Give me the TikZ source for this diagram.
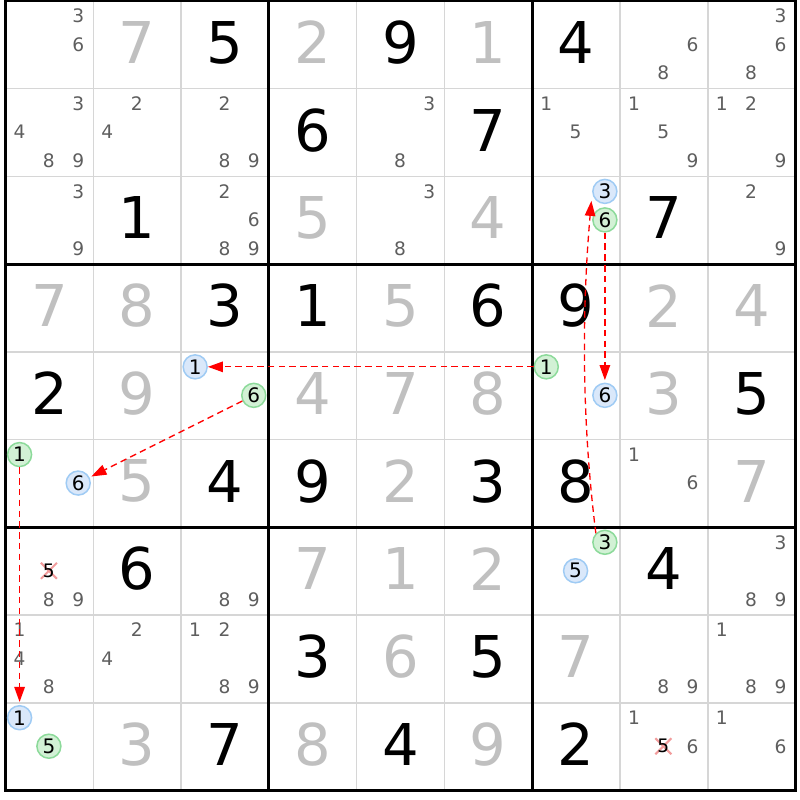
\documentclass[tikz,border=0pt]{standalone}
\usepackage{fontspec}
\setmainfont{DejaVu Sans}
\usetikzlibrary{arrows.meta,calc}
\definecolor{solvedgray}{HTML}{C0C0C0}
\definecolor{candgray}{HTML}{5E5E5E}
\definecolor{thingray}{HTML}{D6D6D6}
\definecolor{bluefill}{HTML}{DAE8FA}
\definecolor{bluedraw}{HTML}{9FCBF4}
\definecolor{greenfill}{HTML}{D2F1D5}
\definecolor{greendraw}{HTML}{8CDA9A}
\definecolor{chainred}{HTML}{FF0000}
\definecolor{xpink}{HTML}{F29C9C}
\tikzset{
  givd/.style={font=\fontsize{57.6}{60}\selectfont, text=black, inner sep=0pt},
  solvd/.style={font=\fontsize{57.6}{60}\selectfont, text=solvedgray, inner sep=0pt},
  cand/.style={font=\fontsize{18.6}{20}\selectfont, text=candgray, inner sep=0pt},
  circd/.style={circle, minimum size=24pt, inner sep=0pt, line width=1.5pt, font=\fontsize{20}{22}\selectfont, text=black},
  bluec/.style={circd, draw=bluedraw, fill=bluefill},
  greenc/.style={circd, draw=greendraw, fill=greenfill},
  chainln/.style={draw=chainred, line width=1.3pt, dash pattern=on 6.5pt off 4.3pt, -{Triangle[length=15pt,width=10.5pt]}},
  xmk/.style={draw=xpink, line width=2pt},
  thinln/.style={draw=thingray, line width=1.5pt},
  thickln/.style={draw=black, line width=3pt}
}
\begin{document}
\begin{tikzpicture}[x=1pt,y=-1pt]
\useasboundingbox (0,0) rectangle (800,800);
\fill[white] (0,0) rectangle (800,800);
% thin grid lines
\foreach \i in {1,2,4,5,7,8}{
  \draw[thinln] ({5.5+87.78*\i},1) -- ({5.5+87.78*\i},790.5);
  \draw[thinln] (5.5,{1+87.72*\i}) -- (795.5,{1+87.72*\i});
}
% thick grid lines
\foreach \i in {0,3,6,9}{
  \draw[thickln] ({5.5+87.78*\i},-0.5) -- ({5.5+87.78*\i},792);
  \draw[thickln] (4,{1+87.72*\i}) -- (797,{1+87.72*\i});
}
% given digits
\foreach \r/\c/\d in {0/2/5,0/4/9,0/6/4,1/3/6,1/5/7,2/1/1,2/7/7,3/2/3,3/3/1,3/5/6,3/6/9,4/0/2,4/8/5,5/2/4,5/3/9,5/5/3,5/6/8,6/1/6,6/7/4,7/3/3,7/5/5,8/2/7,8/4/4,8/6/2}
  \node[givd] (v\r\c) at ({5.5+87.78*(\c+0.5)},{1+87.72*(\r+0.5)-2.3}) {\d};
% solved digits
\foreach \r/\c/\d in {0/1/7,0/3/2,0/5/1,2/3/5,2/5/4,3/0/7,3/1/8,3/4/5,3/7/2,3/8/4,4/1/9,4/3/4,4/4/7,4/5/8,4/7/3,5/1/5,5/4/2,5/8/7,6/3/7,6/4/1,6/5/2,7/4/6,7/6/7,8/1/3,8/3/8,8/5/9}
  \node[solvd] (v\r\c) at ({5.5+87.78*(\c+0.5)},{1+87.72*(\r+0.5)-2.3}) {\d};
% candidates
\foreach \r/\c/\d in {0/0/3,0/0/6,0/7/6,0/7/8,0/8/3,0/8/6,0/8/8,
  1/0/3,1/0/4,1/0/8,1/0/9,1/1/2,1/1/4,1/2/2,1/2/8,1/2/9,1/4/3,1/4/8,1/6/1,1/6/5,1/7/1,1/7/5,1/7/9,1/8/1,1/8/2,1/8/9,
  2/0/3,2/0/9,2/2/2,2/2/6,2/2/8,2/2/9,2/4/3,2/4/8,2/8/2,2/8/9,
  5/7/1,5/7/6,
  6/0/8,6/0/9,6/2/8,6/2/9,6/8/3,6/8/8,6/8/9,
  7/0/1,7/0/4,7/0/8,7/1/2,7/1/4,7/2/1,7/2/2,7/2/8,7/2/9,7/7/8,7/7/9,7/8/1,7/8/8,7/8/9,
  8/7/1,8/7/6,8/8/1,8/8/6}
  \node[cand] (k\r\c\d) at ({5.5+87.78*(\c+0.5)+29.3*(mod(\d-1,3)-1)-0.5},{1+87.72*(\r+0.5)+28.5*(int((\d-1)/3)-1)-0.4}) {\d};
% eliminated candidates
\foreach \r/\c/\d in {6/0/5,8/7/5}{
  \coordinate (x\r\c\d) at ({5.5+87.78*(\c+0.5)+29.3*(mod(\d-1,3)-1)-0.5},{1+87.72*(\r+0.5)+28.5*(int((\d-1)/3)-1)-0.4});
  \draw[xmk] ($(x\r\c\d)+(-8,-8)$) -- ($(x\r\c\d)+(8,8)$);
  \draw[xmk] ($(x\r\c\d)+(-8,8)$) -- ($(x\r\c\d)+(8,-8)$);
  \node[cand,text=black] (k\r\c\d) at (x\r\c\d) {\d};
}
% highlighted candidates
\foreach \r/\c/\d in {2/6/3,4/2/1,4/6/6,5/0/6,6/6/5,8/0/1}
  \node[bluec] (k\r\c\d) at ({5.5+87.78*(\c+0.5)+29.3*(mod(\d-1,3)-1)-0.5},{1+87.72*(\r+0.5)+28.5*(int((\d-1)/3)-1)-0.4}) {\d};
\foreach \r/\c/\d in {2/6/6,4/2/6,4/6/1,5/0/1,6/6/3,8/0/5}
  \node[greenc] (k\r\c\d) at ({5.5+87.78*(\c+0.5)+29.3*(mod(\d-1,3)-1)-0.5},{1+87.72*(\r+0.5)+28.5*(int((\d-1)/3)-1)-0.4}) {\d};
% chain
\draw[chainln, shorten >=2.5pt] (k266) -- (k466);
\draw[chainln] (k663.135) .. controls +(-14,-111) and +(-9.7,111) .. ([shift={(-13.5,9.5)}]k263.center);
\draw[chainln] (k461) -- (k421);
\draw[chainln, shorten >=2pt] (k426) -- (k506);
\draw[chainln, shorten >=3pt] (k501) -- (k801);
\end{tikzpicture}
\end{document}
